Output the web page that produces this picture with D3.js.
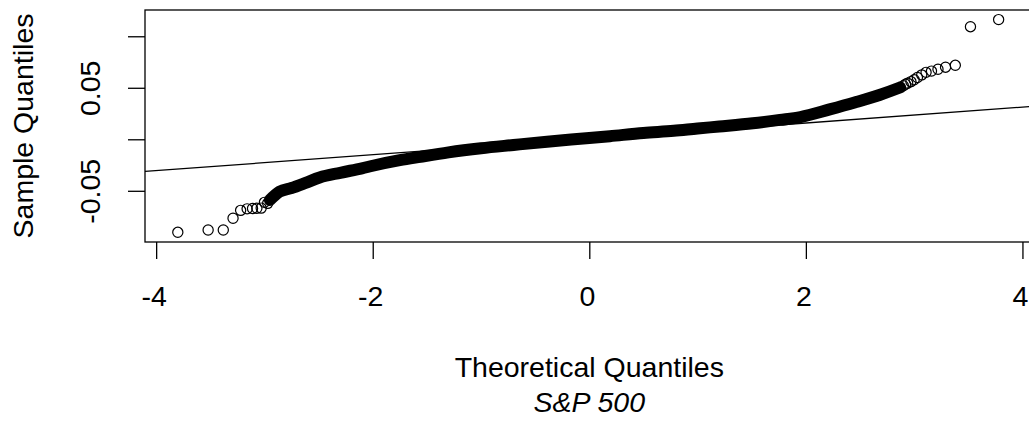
<!DOCTYPE html>
<html><head><meta charset="utf-8">
<script src="https://cdn.jsdelivr.net/npm/d3@7"></script>
<style>
body{margin:0;background:#fff}
svg{display:block}
text{font-family:"Liberation Sans",Arial,sans-serif;fill:#000}
</style>
</head><body>
<svg id="c" width="1029" height="421"></svg>
<script>
// ---- data ----
const leftTailTheo   = [-3.80, -3.52, -3.38, -3.29, -3.22, -3.16, -3.11, -3.07, -3.03, -3.00, -2.97];
const leftTailSample = [-0.0903, -0.0880, -0.0880, -0.0767, -0.0690, -0.0675, -0.0672, -0.0670, -0.0668, -0.0612, -0.0622];

const bandTheo   = [-2.95, -2.86, -2.75, -2.62, -2.49, -2.30, -2.10, -2.00, -1.75, -1.56, -1.30, -1.00, -0.70, -0.39, 0.00, 0.19, 0.50, 0.78, 1.00, 1.20, 1.51, 1.76, 1.95, 2.22, 2.45, 2.68, 2.87];
const bandSample = [-0.0590, -0.0509, -0.0473, -0.0423, -0.0371, -0.0325, -0.0282, -0.0257, -0.0203, -0.0170, -0.0127, -0.0087, -0.0055, -0.0023, 0.0012, 0.0030, 0.0061, 0.0082, 0.0105, 0.0124, 0.0155, 0.0188, 0.0216, 0.0290, 0.0357, 0.0430, 0.0503];

const rightTailTheo   = [2.90, 2.92, 2.94, 2.97, 3.00, 3.03, 3.07, 3.11, 3.16, 3.22, 3.29, 3.38, 3.52, 3.78];
const rightTailSample = [0.0520, 0.0535, 0.0545, 0.0560, 0.0578, 0.0600, 0.0625, 0.0650, 0.0662, 0.0680, 0.0700, 0.0718, 0.1093, 0.1162];

const lineIntercept = 0.0004;
const lineSlope = 0.0077;

const xTicks = [-4, -2, 0, 2, 4];
const xTickLabels = ["-4", "-2", "0", "2", "4"];
const yTicks = [-0.05, 0, 0.05, 0.10];
const yTickLabels = ["-0.05", "", "0.05", ""];
const xDomain = [-4.103, 4.103];
const yDomain = [-0.0997, 0.1255];

const xLabel = "Theoretical Quantiles";
const yLabel = "Sample Quantiles";
const subLabel = "S&P 500";

// ---- drawing ----
const FS = 28.5;
const svg = d3.select("#c");
const plot = {left: 145, top: 10, right: 1033.6, bottom: 242};
const x = d3.scaleLinear().domain(xDomain).range([plot.left, plot.right]);
const y = d3.scaleLinear().domain(yDomain).range([plot.bottom, plot.top]);

svg.append("defs").append("clipPath").attr("id", "clip")
  .append("rect").attr("x", plot.left).attr("y", plot.top)
  .attr("width", plot.right - plot.left).attr("height", plot.bottom - plot.top);

const g = svg.append("g").attr("clip-path", "url(#clip)");

// qq line
g.append("line")
  .attr("x1", x(xDomain[0])).attr("y1", y(lineIntercept + lineSlope * xDomain[0]))
  .attr("x2", x(xDomain[1])).attr("y2", y(lineIntercept + lineSlope * xDomain[1]))
  .attr("stroke", "#000").attr("stroke-width", 1.3);

// dense band of overlapping points
const band = bandTheo.map((t, i) => [t, bandSample[i]]);
g.append("path").datum(band)
  .attr("d", d3.line().x(d => x(d[0])).y(d => y(d[1])).curve(d3.curveMonotoneX))
  .attr("fill", "none").attr("stroke", "#000").attr("stroke-width", 12)
  .attr("stroke-linecap", "round").attr("stroke-linejoin", "round");

// sparse tail points
const tails = leftTailTheo.map((t, i) => [t, leftTailSample[i]])
  .concat(rightTailTheo.map((t, i) => [t, rightTailSample[i]]));
g.selectAll("circle.pt").data(tails).join("circle").attr("class", "pt")
  .attr("cx", d => x(d[0])).attr("cy", d => y(d[1])).attr("r", 5.1)
  .attr("fill", "none").attr("stroke", "#000").attr("stroke-width", 1.2);

// box
svg.append("rect").attr("x", plot.left).attr("y", plot.top)
  .attr("width", plot.right - plot.left).attr("height", plot.bottom - plot.top)
  .attr("fill", "none").attr("stroke", "#000").attr("stroke-width", 1.3);

// x axis
const xa = svg.append("g").attr("transform", `translate(0,${plot.bottom})`)
  .call(d3.axisBottom(x).tickValues(xTicks).tickFormat((d, i) => xTickLabels[i]).tickSize(17).tickPadding(27));
xa.select(".domain").remove();
xa.selectAll(".tick line").attr("stroke", "#000").attr("stroke-width", 1.3);
xa.selectAll(".tick text").attr("font-size", FS).attr("font-family", "Liberation Sans, Arial, sans-serif")
  .attr("fill", "#000").attr("x", -2.5);

// y axis
const ya = svg.append("g").attr("transform", `translate(${plot.left},0)`)
  .call(d3.axisLeft(y).tickValues(yTicks).tickFormat((d, i) => yTickLabels[i]).tickSize(17));
ya.select(".domain").remove();
ya.selectAll(".tick line").attr("stroke", "#000").attr("stroke-width", 1.3);
ya.selectAll(".tick text")
  .attr("font-size", FS).attr("font-family", "Liberation Sans, Arial, sans-serif").attr("fill", "#000")
  .attr("text-anchor", "middle").attr("transform", "rotate(-90)")
  .attr("x", 0).attr("y", -45).attr("dy", 0);

// labels
const cx = (plot.left + plot.right) / 2;
svg.append("text").attr("x", cx).attr("y", 376.5).attr("text-anchor", "middle")
  .attr("font-size", FS).text(xLabel);
svg.append("text").attr("x", cx).attr("y", 411.5).attr("text-anchor", "middle")
  .attr("font-size", FS).attr("font-style", "italic").text(subLabel);
svg.append("text").attr("transform", `translate(33,${(plot.top + plot.bottom) / 2}) rotate(-90)`)
  .attr("text-anchor", "middle").attr("font-size", FS).text(yLabel);
</script>
</body></html>
